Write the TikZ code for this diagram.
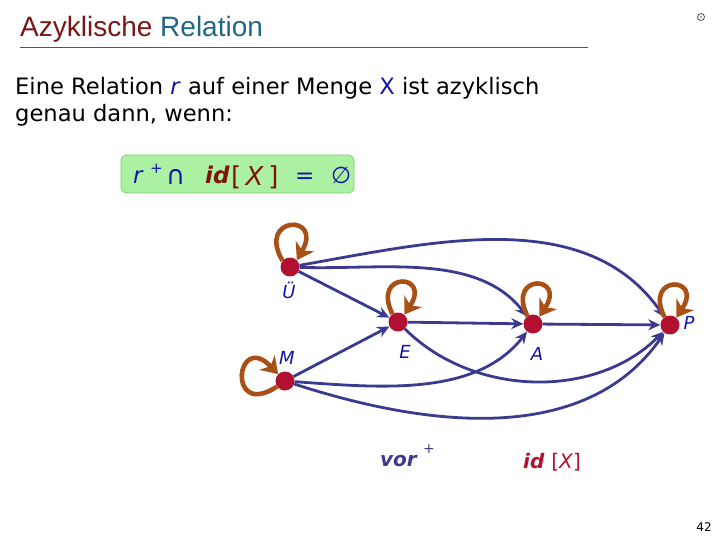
\documentclass[tikz,border=0pt]{standalone}
\usepackage{fontspec}
\setmainfont{DejaVu Sans}
\newfontfamily\titlefont{Liberation Sans}
\usetikzlibrary{arrows.meta}
\definecolor{tdred}{RGB}{122,22,22}
\definecolor{tteal}{RGB}{31,103,130}
\definecolor{tblue}{RGB}{20,20,170}
\definecolor{eblue}{RGB}{58,58,145}
\definecolor{nred}{RGB}{178,16,48}
\definecolor{lbrown}{RGB}{168,80,22}
\definecolor{boxfill}{RGB}{172,240,162}
\definecolor{boxborder}{RGB}{130,200,120}
\definecolor{iddred}{RGB}{125,20,10}
\begin{document}
\begin{tikzpicture}[x=1pt,y=-1pt,
  vtx/.style={circle,fill=nred,inner sep=0pt,minimum size=19pt},
  lbl/.style={font=\itshape\fontsize{18}{20}\selectfont,text=tblue,inner sep=0pt},
  edge/.style={draw=eblue,line width=2.8pt,-{Stealth[length=12pt,width=11pt]}},
  selfloop/.style={draw=lbrown,line width=4.6pt,-{Stealth[length=16pt,width=21pt,inset=5pt]}},
  body/.style={anchor=base west,inner sep=0pt,font=\fontsize{22.6}{28}\selectfont},
  frm/.style={anchor=base west,inner sep=0pt,font=\fontsize{23}{26}\selectfont}]
\useasboundingbox (0,0) rectangle (720,540);
% title
\node[anchor=base west,inner sep=0pt,font=\titlefont\fontsize{28}{30}\selectfont] (title) at (20,37)
  {\textcolor{tdred}{Azyklische} \textcolor{tteal}{Relation}};
\draw[tteal,line width=1pt] (20,48) -- (588,48);
\draw[black!70,line width=0.8pt] (701,17) circle (3.5);
\fill[black!70] (701,17) circle (0.9);
% body
\node[body] (l1) at (15,95) {Eine Relation \textcolor{tblue}{\textit{r}} auf einer Menge \textcolor{tblue}{X} ist azyklisch};
\node[body] (l2) at (15,122) {genau dann, wenn:};
% formula box
\node[draw=boxborder,fill=boxfill,rounded corners=6pt,line width=0.8pt,minimum width=233pt,minimum height=38pt,inner sep=0pt] (box) at (237.5,174) {};
\node[frm,text=tblue] (fr) at (133,184) {\textit{r}};
\node[frm,text=tblue,font=\fontsize{15}{16}\selectfont] (fplus) at (150,174) {+};
\node[frm,text=tblue,font=\fontsize{26}{28}\selectfont] (fcap) at (166,185) {∩};
\node[frm,text=iddred] (fid) at (205,184) {\bfseries\itshape id};
\node[frm,text=iddred,font=\fontsize{26}{28}\selectfont] (fx) at (231,186) {[\,\textit{X}\,]};
\node[frm,text=tblue] (feq) at (295,184) {=};
\node[frm,text=tblue] (fempty) at (331,184) {∅};
% vertices
\node[vtx] (U) at (290,267) {};
\node[vtx] (E) at (398,322) {};
\node[vtx] (A) at (533,324) {};
\node[vtx] (P) at (670,325) {};
\node[vtx] (M) at (285,381) {};
\node[lbl] (lU) at (289,290) {Ü};
\node[lbl] (lE) at (405,352) {E};
\node[lbl] (lA) at (537,354) {A};
\node[lbl] (lP) at (689,323) {P};
\node[lbl] (lM) at (287,358) {M};
% edges
\draw[edge] (U) -- (E);
\draw[edge] (U) to[out=-2,in=128,looseness=0.9] (A);
\draw[edge] (U) to[out=10,in=125,looseness=0.95] (P);
\draw[edge] (E) -- (A);
\draw[edge] (A) -- (P);
\draw[edge] (M) -- (E);
\draw[edge] (M) to[out=-4,in=-128,looseness=0.9] (A);
\draw[edge] (E) to[out=-45,in=-135,looseness=0.95] (P);
\draw[edge] (M) to[out=-18,in=-125,looseness=0.95] (P);
% self loops
\draw[selfloop] (U.140) .. controls (256,216) and (324,213) .. (U.45);
\draw[selfloop] (E.125) .. controls (371,271) and (432,273) .. (E.50);
\draw[selfloop] (A.125) .. controls (506,273) and (567,275) .. (A.50);
\draw[selfloop] (P.125) .. controls (643,274) and (704,276) .. (P.50);
\draw[selfloop] (M.215) .. controls (226,420) and (236,330) .. (M.135);
% bottom labels
\node[anchor=base west,inner sep=0pt,font=\bfseries\itshape\fontsize{20}{24}\selectfont,text=eblue] (vor) at (380,466) {vor};
\node[anchor=base west,inner sep=0pt,font=\fontsize{14}{16}\selectfont,text=eblue] (vplus) at (423,453) {+};
\node[anchor=base west,inner sep=0pt,font=\fontsize{20}{24}\selectfont,text=nred] (idx) at (523,468) {\bfseries\itshape id \normalfont[\textit{X}]};
\node[font=\fontsize{12}{14}\selectfont] (pg) at (704,527) {42};
\end{tikzpicture}
\end{document}
